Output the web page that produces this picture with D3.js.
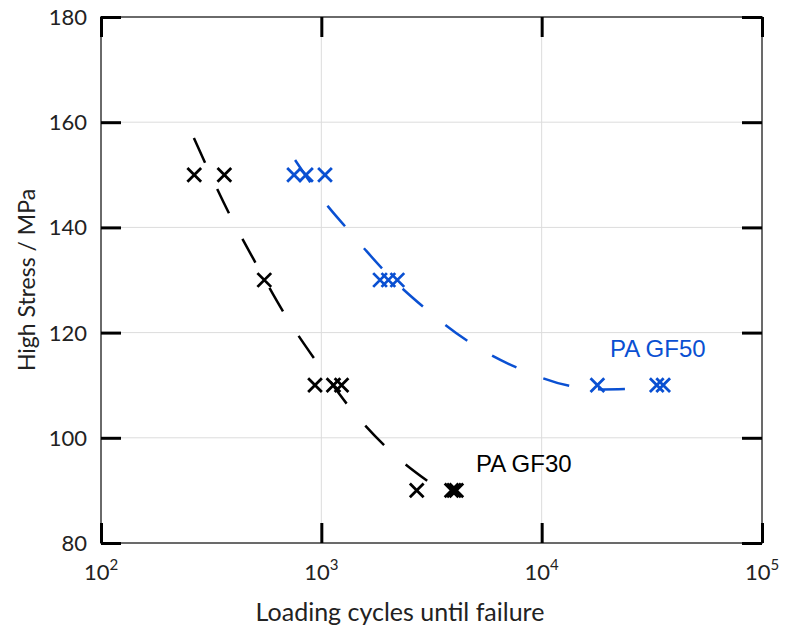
<!DOCTYPE html>
<html><head><meta charset="utf-8">
<script src="https://cdn.jsdelivr.net/npm/d3@7"></script>
<style>body{margin:0;background:#fff}</style>
</head><body>
<svg id="c" width="792" height="628"></svg>
<script>
// ---- data ----
const xTicks = [100, 1000, 10000, 100000];
const xTickExp = ["2", "3", "4", "5"];
const yTicks = [80, 100, 120, 140, 160, 180];

// PA GF30 measurements (cycles, MPa)
const gf30Cycles = [265, 363, 551, 936, 1135, 1235, 2710, 3900, 4000, 4100];
const gf30Stress = [150, 150, 130, 110, 110, 110, 90, 90, 90, 90];
// PA GF50 measurements
const gf50Cycles = [752, 852, 1039, 1847, 2015, 2213, 17900, 33300, 35600];
const gf50Stress = [150, 150, 150, 130, 130, 130, 110, 110, 110];

// dashed trend curves
const gf30FitCycles = [264, 385, 510, 684, 956, 1349, 2028, 3300];
const gf30FitStress = [157, 142.3, 132.8, 123.4, 114.3, 105.7, 97.7, 90.7];
const gf50FitCycles = [760, 1072, 1294, 1579, 1926, 2958, 4732, 8056, 14030, 19000, 25470];
const gf50FitStress = [152.8, 144, 140, 135.8, 131.8, 124.6, 118.1, 113.0, 109.7, 109.2, 109.3];

const labels = ["PA GF30", "PA GF50"];
const colors = {gf30: "#000000", gf50: "#0a50d2"};

// ---- layout ----
const W = 792, H = 628;
const m = {l: 101, r: 30, t: 17, b: 85};
const iw = W - m.l - m.r, ih = H - m.t - m.b;
const svg = d3.select("#c");
const g = svg.append("g").attr("transform", `translate(${m.l},${m.t})`);

const x = d3.scaleLog().domain([100, 100000]).range([0, iw]);
const y = d3.scaleLinear().domain([80, 180]).range([ih, 0]);

// grid
g.append("g").selectAll("line").data(xTicks.slice(1, -1)).join("line")
  .attr("x1", d => x(d)).attr("x2", d => x(d)).attr("y1", 0).attr("y2", ih)
  .attr("stroke", "#dcdcdc").attr("stroke-width", 1);
g.append("g").selectAll("line").data(yTicks.slice(1, -1)).join("line")
  .attr("y1", d => y(d)).attr("y2", d => y(d)).attr("x1", 0).attr("x2", iw)
  .attr("stroke", "#dcdcdc").attr("stroke-width", 1);

// frame
g.append("rect").attr("x", 0).attr("y", 0).attr("width", iw).attr("height", ih)
  .attr("fill", "none").attr("stroke", "#3a3a3a").attr("stroke-width", 1.5);

// axes with inward ticks (using d3 axes, labels handled separately)
const tl = 20;
function styleAxis(sel) {
  sel.select(".domain").remove();
  sel.selectAll(".tick line").attr("stroke", "#000").attr("stroke-width", 3);
  sel.selectAll(".tick text").remove();
}
g.append("g").attr("transform", `translate(0,${ih})`)
  .call(d3.axisBottom(x).tickValues(xTicks).tickSizeInner(-tl).tickSizeOuter(0)).call(styleAxis);
g.append("g")
  .call(d3.axisTop(x).tickValues(xTicks).tickSizeInner(-tl).tickSizeOuter(0)).call(styleAxis);
g.append("g")
  .call(d3.axisLeft(y).tickValues(yTicks).tickSizeInner(-tl).tickSizeOuter(0)).call(styleAxis);
g.append("g").attr("transform", `translate(${iw},0)`)
  .call(d3.axisRight(y).tickValues(yTicks).tickSizeInner(-tl).tickSizeOuter(0)).call(styleAxis);

const font = "Lato, 'Open Sans', sans-serif";
// y tick labels
g.append("g").selectAll("text").data(yTicks).join("text")
  .attr("x", -14).attr("y", d => y(d)).attr("dy", "0.36em")
  .attr("text-anchor", "end").attr("font-family", font).attr("font-size", 22)
  .attr("fill", "#222").text(d => d);
// x tick labels 10^n
const xl = g.append("g").selectAll("text").data(xTicks).join("text")
  .attr("x", (d, i) => x(d)).attr("y", ih + 37)
  .attr("text-anchor", "middle").attr("font-family", font).attr("font-size", 22)
  .attr("fill", "#222");
xl.append("tspan").text("10");
xl.append("tspan").attr("dy", -10).attr("font-size", 15).text((d, i) => xTickExp[i]);

// axis titles
svg.append("text").attr("x", 400).attr("y", 621)
  .attr("text-anchor", "middle").attr("font-family", font).attr("font-size", 25)
  .attr("fill", "#222").text("Loading cycles until failure");
svg.append("text").attr("transform", `translate(35,${m.t + ih / 2}) rotate(-90)`)
  .attr("text-anchor", "middle").attr("font-family", font).attr("font-size", 23)
  .attr("fill", "#222").text("High Stress / MPa");

// trend curves
const line = d3.line().x(d => x(d[0])).y(d => y(d[1])).curve(d3.curveMonotoneX);
g.append("path").datum(d3.zip(gf30FitCycles, gf30FitStress)).attr("d", line)
  .attr("fill", "none").attr("stroke", colors.gf30).attr("stroke-width", 2.5)
  .attr("stroke-dasharray", "27,29");
g.append("path").datum(d3.zip(gf50FitCycles, gf50FitStress)).attr("d", line)
  .attr("fill", "none").attr("stroke", colors.gf50).attr("stroke-width", 2.5)
  .attr("stroke-dasharray", "27,29");

// markers (x shapes)
const cross = d3.symbol().type(d3.symbolTimes).size(125);
function drawMarkers(cyc, st, col) {
  g.append("g").selectAll("path").data(d3.zip(cyc, st)).join("path")
    .attr("transform", d => `translate(${x(d[0])},${y(d[1])})`)
    .attr("d", cross).attr("fill", "none").attr("stroke", col).attr("stroke-width", 2.8);
}
drawMarkers(gf30Cycles, gf30Stress, colors.gf30);
drawMarkers(gf50Cycles, gf50Stress, colors.gf50);

// series labels
svg.append("text").attr("x", 476).attr("y", 472).attr("font-family", "'Liberation Sans', Arial, sans-serif")
  .attr("font-size", 24).attr("fill", colors.gf30).text(labels[0]);
svg.append("text").attr("x", 610).attr("y", 357).attr("font-family", "'Liberation Sans', Arial, sans-serif")
  .attr("font-size", 24).attr("fill", colors.gf50).text(labels[1]);
</script>
</body></html>
